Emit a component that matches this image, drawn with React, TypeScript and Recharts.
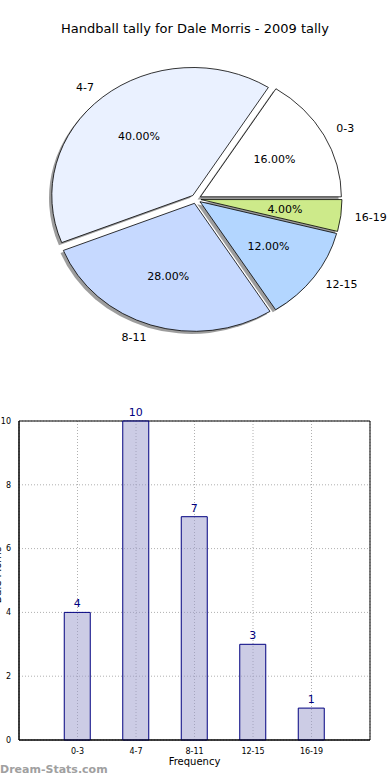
import React from 'react';
import {
  PieChart, Pie, BarChart, Bar, XAxis, YAxis, CartesianGrid, LabelList, ReferenceArea,
} from 'recharts';

const CATEGORIES = ['0-3', '4-7', '8-11', '12-15', '16-19'];
const TALLY = [4, 10, 7, 3, 1];
const SLICE_COLORS = ['#ffffff', '#eaf1ff', '#c6d9ff', '#b3d6ff', '#cdea8a'];
const X_POSITIONS = [1, 2, 3, 4, 5];
const Y_TICKS = [0, 2, 4, 6, 8, 10];

const pieData = CATEGORIES.map((name, i) => ({ name, value: TALLY[i], fill: SLICE_COLORS[i] }));
const barData = CATEGORIES.map((name, i) => ({ x: X_POSITIONS[i], name, value: TALLY[i] }));

const FONT = '"DejaVu Sans", sans-serif';
const RAD = Math.PI / 180;
const KY = 128 / 141; // matplotlib pie without equal aspect -> ellipse
const EXPLODE = 5;

const wedgePath = (cx: number, cy: number, r: number, start: number, end: number, dx = 0, dy = 0) => {
  const mid = (start + end) / 2;
  const ex = cx + EXPLODE * Math.cos(mid * RAD) + dx;
  const ey = cy - EXPLODE * KY * Math.sin(mid * RAD) + dy;
  const ry = r * KY;
  const x1 = ex + r * Math.cos(start * RAD);
  const y1 = ey - ry * Math.sin(start * RAD);
  const x2 = ex + r * Math.cos(end * RAD);
  const y2 = ey - ry * Math.sin(end * RAD);
  const large = Math.abs(end - start) > 180 ? 1 : 0;
  return `M${ex},${ey} L${x1},${y1} A${r},${ry} 0 ${large} 0 ${x2},${y2} Z`;
};

const WedgeShape = (props: any) => {
  const { cx, cy, outerRadius, startAngle, endAngle, fill } = props;
  return (
    <path d={wedgePath(cx, cy, outerRadius, startAngle, endAngle)} fill={fill} stroke="#000" strokeWidth={0.8} />
  );
};

const ShadowShape = (props: any) => {
  const { cx, cy, outerRadius, startAngle, endAngle } = props;
  return (
    <path d={wedgePath(cx, cy, outerRadius, startAngle, endAngle, -2.8, 2.6)} fill="#4d4d4d" fillOpacity={0.55} stroke="none" />
  );
};

const renderPieLabel = (props: any) => {
  const { cx, cy, midAngle, outerRadius, percent, name } = props;
  const c = Math.cos(midAngle * RAD);
  const s = Math.sin(midAngle * RAD);
  const ex = cx + EXPLODE * c;
  const ey = cy - EXPLODE * KY * s;
  const r = outerRadius;
  return (
    <g>
      <text
        x={ex + 1.1 * r * c}
        y={ey - 1.1 * r * KY * s}
        textAnchor={c >= 0 ? 'start' : 'end'}
        dominantBaseline="central"
        fontFamily={FONT}
        fontSize={11}
        fill="#000"
      >
        {name}
      </text>
      <text
        x={ex + 0.6 * r * c}
        y={ey - 0.6 * r * KY * s}
        textAnchor="middle"
        dominantBaseline="central"
        fontFamily={FONT}
        fontSize={11}
        fill="#000"
      >
        {(percent * 100).toFixed(2)}%
      </text>
    </g>
  );
};

export default function App() {
  return (
    <div style={{ position: 'absolute', left: 0, top: 0, width: 390, height: 780, background: '#fff', fontFamily: FONT, overflow: 'hidden' }}>
      <div style={{ position: 'absolute', top: 21, left: 0, width: 390, textAlign: 'center', fontSize: 13, color: '#000' }}>
        Handball tally for Dale Morris - 2009 tally
      </div>

      <div style={{ position: 'absolute', top: 0, left: 0 }}>
        <PieChart width={390} height={370} margin={{ top: 0, right: 0, bottom: 0, left: 0 }}>
          <Pie
            data={pieData}
            dataKey="value"
            nameKey="name"
            cx={196}
            cy={199}
            outerRadius={141}
            startAngle={0}
            endAngle={360}
            shape={ShadowShape}
            stroke="none"
            label={false}
            isAnimationActive={false}
          />
          <Pie
            data={pieData}
            dataKey="value"
            nameKey="name"
            cx={196}
            cy={199}
            outerRadius={141}
            startAngle={0}
            endAngle={360}
            shape={WedgeShape}
            label={renderPieLabel}
            labelLine={false}
            isAnimationActive={false}
          />
        </PieChart>
      </div>

      <div style={{ position: 'absolute', top: 400, left: 0 }}>
        <BarChart width={390} height={370} data={barData} margin={{ top: 21, right: 20, bottom: 0, left: 0 }}>
          <CartesianGrid stroke="#b0b0b0" strokeDasharray="1 2" />
          <XAxis
            dataKey="x"
            type="number"
            domain={[0, 6]}
            ticks={X_POSITIONS}
            tickFormatter={(v: number) => CATEGORIES[v - 1]}
            height={30}
            axisLine={{ stroke: '#000' }}
            tickLine={false}
            tick={{ fontSize: 8, fill: '#000', fontFamily: FONT }}
            label={{ value: 'Frequency', position: 'insideBottom', offset: 5, fontSize: 10, fill: '#000', fontFamily: FONT }}
          />
          <YAxis
            type="number"
            domain={[0, 10]}
            ticks={Y_TICKS}
            width={19}
            axisLine={{ stroke: '#000' }}
            tickLine={false}
            tick={{ fontSize: 8, fill: '#000', fontFamily: FONT }}
          />
          <ReferenceArea x1={0} x2={6} y1={0} y2={10} fill="none" stroke="#000" strokeWidth={1} />
          <Bar dataKey="value" barSize={26} fill="#9999cc" fillOpacity={0.5} stroke="#000080" strokeWidth={1} isAnimationActive={false}>
            <LabelList dataKey="value" position="top" offset={5} fill="#000080" fontSize={11} fontFamily={FONT} />
          </Bar>
        </BarChart>
      </div>

      <div style={{ position: 'absolute', left: -37, top: 569, transform: 'rotate(-90deg)', transformOrigin: 'center', fontSize: 10, width: 70, textAlign: 'center', lineHeight: '12px', color: '#000' }}>
        Dale Morris
      </div>

      <div style={{ position: 'absolute', left: 0, top: 763, fontSize: 11, fontWeight: 'bold', color: '#a0a0a0' }}>
        Dream-Stats.com
      </div>
    </div>
  );
}
